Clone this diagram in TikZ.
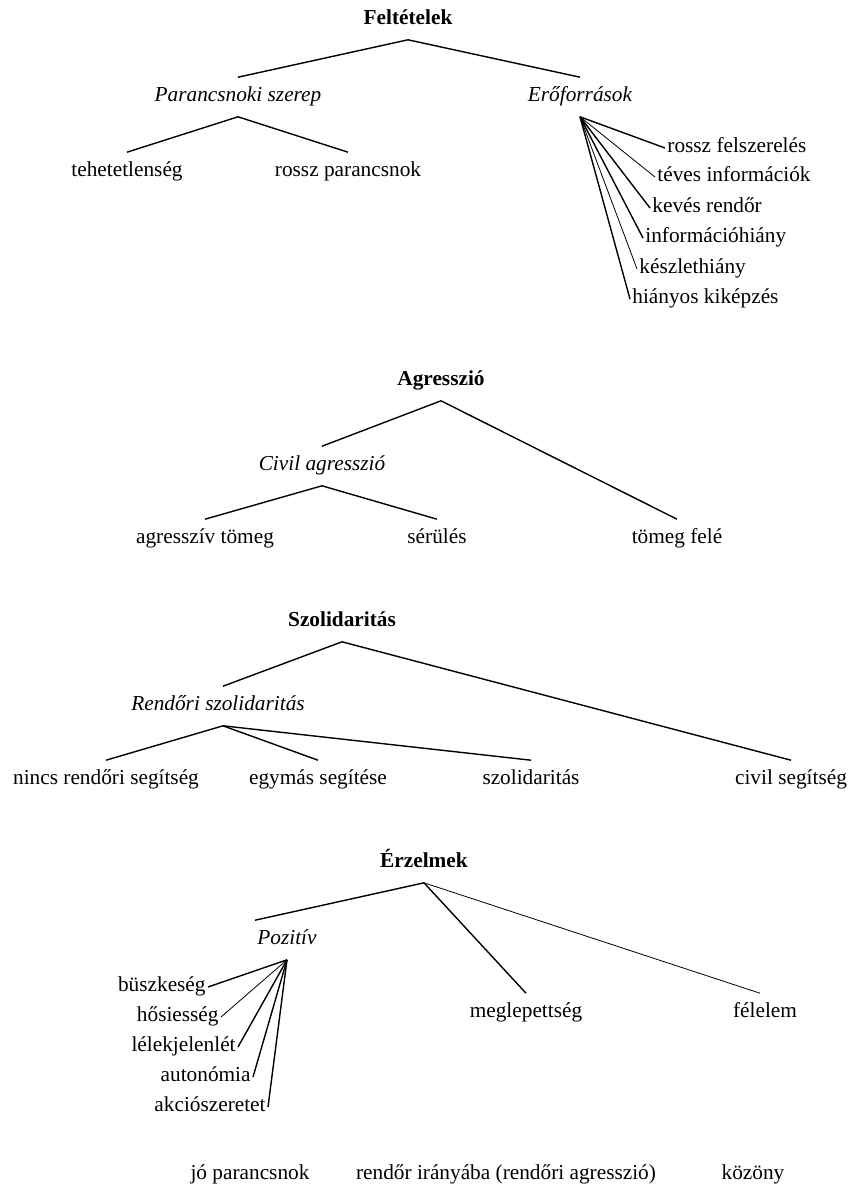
\documentclass[tikz,border=0pt]{standalone}
\usepackage{fontspec}
\setmainfont{Liberation Serif}
\usetikzlibrary{positioning}

\begin{document}
\begin{tikzpicture}[x=0.5pt,y=-0.5pt,
every node/.style={font=\fontsize{10.65}{12}\selectfont,inner xsep=1pt,inner ysep=5.1pt,text height=0.7em,text depth=0.22em},
title/.style={font=\fontsize{10.65}{12}\selectfont\bfseries},
sub/.style={font=\fontsize{10.65}{12}\selectfont\itshape},
fanright/.style={anchor=west},
fanleft/.style={anchor=east},
every edge/.style={draw,line width=0.7pt},
thinbranch/.style={line width=0.4pt}]
\useasboundingbox (0,0) rectangle (848,1189);

\node[title] (felt)    at (408,20)  {Feltételek};
\node[sub]   (parancs) at (238,97)  {Parancsnoki szerep};
\node[sub]   (eroforr) at (580,97)  {Erőforrások};
\node (tehet)  at (127,172) {tehetetlenség};
\node (rosszp) at (348,172) {rossz parancsnok};
\node[fanright] (felsz)   at (665,148) {rossz felszerelés};
\node[fanright] (teves)   at (655,177) {téves információk};
\node[fanright] (keves)   at (650,208) {kevés rendőr};
\node[fanright] (infohi)  at (643,238) {információhiány};
\node[fanright] (keszlet) at (637,269) {készlethiány};
\node[fanright] (kikep)   at (630,299) {hiányos kiképzés};

\node[title] (agr)     at (441,381) {Agresszió};
\node[sub]   (civil)   at (322,466) {Civil agresszió};
\node (agrtom)  at (205,539) {agresszív tömeg};
\node (serul)   at (437,539) {sérülés};
\node (tomfele) at (677,539) {tömeg felé};

\node[title] (szol)     at (342,622) {Szolidaritás};
\node[sub]   (rendszol) at (218,706) {Rendőri szolidaritás};
\node (nincs)  at (106,780) {nincs rendőri segítség};
\node (egymas) at (318,780) {egymás segítése};
\node (szolid) at (531,780) {szolidaritás};
\node (civseg) at (791,780) {civil segítség};

\node[title] (erz)     at (424,863)  {Érzelmek};
\node[sub]   (pozitiv) at (287,940)  {Pozitív};
\node (meglep)  at (526,1013) {meglepettség};
\node (felelem) at (765,1013) {félelem};
\node[fanleft] (buszke)  at (208,987)  {büszkeség};
\node[fanleft] (hosies)  at (221,1017) {hősiesség};
\node[fanleft] (lelek)   at (238,1047) {lélekjelenlét};
\node[fanleft] (auton)   at (253,1077) {autonómia};
\node[fanleft] (akcio)   at (268,1107) {akciószeretet};

\node (jopar)  at (250,1175) {jó parancsnok};
\node (rendir) at (506,1175) {rendőr irányába (rendőri agresszió)};
\node (kozony) at (753,1175) {közöny};

\path (felt.south) edge (parancs.north)
      (felt.south) edge (eroforr.north)
      (parancs.south) edge (tehet.north)
      (parancs.south) edge (rosszp.north)
      (eroforr.south) edge (felsz.west)
      (eroforr.south) edge [thinbranch] (teves.west)
      (eroforr.south) edge (keves.west)
      (eroforr.south) edge (infohi.west)
      (eroforr.south) edge [thinbranch] (keszlet.west)
      (eroforr.south) edge (kikep.west);

\path (agr.south) edge (civil.north)
      (agr.south) edge (tomfele.north)
      (civil.south) edge (agrtom.north)
      (civil.south) edge (serul.north);

\path (szol.south) edge ([xshift=2.5pt]rendszol.north)
      (szol.south) edge (civseg.north)
      ([xshift=2.5pt]rendszol.south) edge (nincs.north)
      ([xshift=2.5pt]rendszol.south) edge (egymas.north)
      ([xshift=2.5pt]rendszol.south) edge (szolid.north);

\path (erz.south) edge (pozitiv.north west)
      (erz.south) edge (meglep.north)
      (erz.south) edge [thinbranch] ([xshift=-2.5pt]felelem.north)
      (pozitiv.south) edge (buszke.east)
      (pozitiv.south) edge [thinbranch] (hosies.east)
      (pozitiv.south) edge (lelek.east)
      (pozitiv.south) edge (auton.east)
      (pozitiv.south) edge (akcio.east);
\end{tikzpicture}
\end{document}
